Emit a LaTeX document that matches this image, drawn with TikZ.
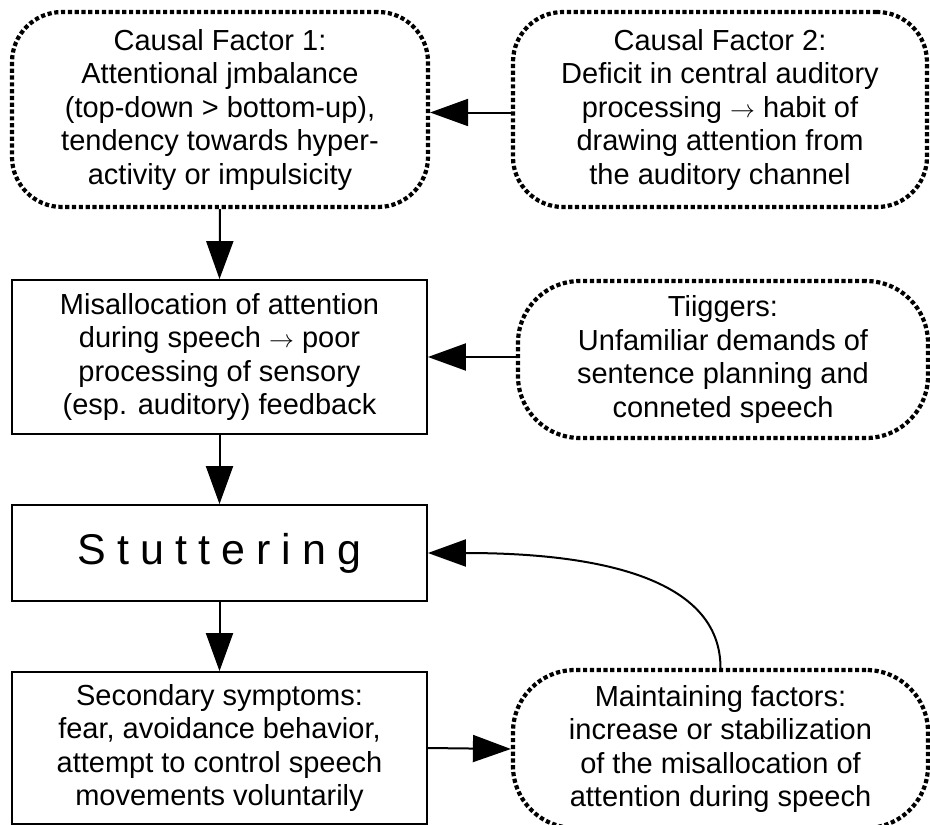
\documentclass[tikz,border=0pt]{standalone}
\usepackage{fontspec}
\setmainfont{Liberation Sans}
\usetikzlibrary{arrows.meta}
\begin{document}
\begin{tikzpicture}[x=1pt,y=-1pt,
  txt/.style={font=\fontsize{29}{33.5}\selectfont, align=center, inner sep=0pt},
  solidbox/.style={txt, draw, line width=1.8pt, rectangle},
  dotbox/.style={txt, draw, line width=4.2pt, dash pattern=on 4.2pt off 2.6pt, rounded corners=#1},
  dotbox/.default=50pt,
  conn/.style={line width=2pt, -{Triangle[length=38pt,width=27pt]}}]
\useasboundingbox (0,0) rectangle (930,825);

\node[dotbox, minimum width=416pt, minimum height=195pt] (cf1) at (220,109.5)
  {Causal Factor 1:\\Attentional jmbalance\\(top-down > bottom-up),\\tendency towards hyper-\\activity or impulsicity};
\node[dotbox, minimum width=414pt, minimum height=195pt] (cf2) at (720,109.5)
  {Causal Factor 2:\\Deficit in central auditory\\processing $\rightarrow$ habit of\\drawing attention from\\the auditory channel};
\node[solidbox, minimum width=415pt, minimum height=154pt] (mis) at (219.5,357)
  {Misallocation of attention\\during speech $\rightarrow$ poor\\processing of sensory\\(esp. auditory) feedback};
\node[dotbox=62pt, minimum width=410pt, minimum height=157pt] (trig) at (723,359.5)
  {Tiiggers:\\Unfamiliar demands of\\sentence planning and\\conneted speech};
\node[solidbox, minimum width=415pt, minimum height=96pt, font=\fontsize{43}{50}\selectfont] (stut) at (219.5,553)
  {S\kern11pt t\kern11pt u\kern11pt t\kern11pt t\kern11pt e\kern11pt r\kern11pt i\kern11pt n\kern11pt g};
\node[solidbox, minimum width=415pt, minimum height=152pt] (sec) at (219.5,748)
  {Secondary symptoms:\\fear, avoidance behavior,\\attempt to control speech\\movements voluntarily};
\node[dotbox=62pt, minimum width=415pt, minimum height=158pt] (maint) at (720.5,749)
  {Maintaining factors:\\increase or stabilization\\of the misallocation of\\attention during speech};

\draw[conn] ([yshift=-3pt]cf2.west) -- ([yshift=-3pt]cf1.east);
\draw[conn] (cf1.south) -- (mis.north);
\draw[conn] (trig.west |- mis.east) -- (mis.east);
\draw[conn] (mis.south) -- (stut.north);
\draw[conn] (stut.south) -- (sec.north);
\draw[conn] (sec.east) -- (maint.west);
\draw[conn] (maint.north) .. controls +(0,-90) and +(170,0) .. (stut.east);
\end{tikzpicture}
\end{document}
